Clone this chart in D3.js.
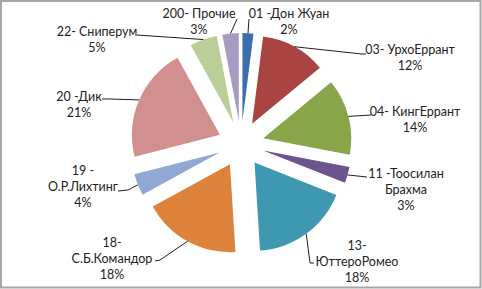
<!DOCTYPE html>
<html>
<head>
<meta charset="utf-8">
<script src="https://cdn.jsdelivr.net/npm/d3@7"></script>
<style>
  body { margin: 0; background: #fff; }
  text { font-family: Lato, "Open Sans", sans-serif; font-size: 12.5px; fill: #222; }
</style>
</head>
<body>
<div id="chart"></div>
<script>
// slices clockwise from 12 o'clock
const names = ['01 -Дон Жуан', '03- УрхоЕррант', '04- КингЕррант', '11 -Тоосилан Брахма', '13- ЮттероРомео',
  '18- С.Б.Командор', '19 - О.Р.Лихтинг', '20 -Дик', '22- Сниперум', '200- Прочие'];
const nameLines = [['01 -Дон Жуан'], ['03- УрхоЕррант'], ['04- КингЕррант'], ['11 -Тоосилан', 'Брахма'], ['13-', 'ЮттероРомео'],
  ['18-', 'С.Б.Командор'], ['19 -', 'О.Р.Лихтинг'], ['20 -Дик'], ['22- Сниперум'], ['200- Прочие']];
const values = [2, 12, 14, 3, 18, 18, 4, 21, 5, 3];
const colors = ['#3a6ead', '#a94442', '#88a649', '#6d548e', '#3f98b1', '#dc823b', '#91a8d4', '#d18f8e', '#b9cf97', '#a79bc2'];

// hand placed labels, like Excel: label centre, first line y, leader elbow/end points
const labelPos = [
  { x: 289, y: 14, line: [[249, 19]] },
  { x: 410, y: 50, line: [[362, 54], [366, 54]] },
  { x: 415, y: 112, line: [[371, 115]] },
  { x: 406, y: 174, line: [[367, 177]] },
  { x: 357, y: 246, line: [[310, 263], [314, 263]] },
  { x: 112, y: 243, line: [[160, 260], [155, 261]] },
  { x: 83, y: 171, line: [[128, 190], [118, 191]] },
  { x: 79, y: 97, line: [[110, 99], [102, 99]] },
  { x: 97, y: 32, line: [[137, 35]] },
  { x: 199, y: 14, line: [[237, 19]] }
];

const W = 482, H = 289;
const cx = 241, cy = 144, r = 88, explode = 23, lineH = 16;

const svg = d3.select('#chart').append('svg').attr('width', W).attr('height', H);

svg.append('rect').attr('x', 1).attr('y', 1).attr('width', W - 2.5).attr('height', H - 2.5)
  .attr('fill', '#fff').attr('stroke', '#a6a6a6').attr('stroke-width', 2);

const total = d3.sum(values);
const pie = d3.pie().sort(null).value(d => d)(values);
const arc = d3.arc().innerRadius(0).outerRadius(r);
const fmt = d3.format('.0%');

const g = svg.append('g').attr('transform', `translate(${cx},${cy})`);

const offset = d => {
  const a = (d.startAngle + d.endAngle) / 2;
  return [explode * Math.sin(a), -explode * Math.cos(a)];
};

g.selectAll('path.slice')
  .data(pie)
  .enter().append('path')
  .attr('class', 'slice')
  .attr('d', arc)
  .attr('fill', (d, i) => colors[i])
  .attr('transform', d => `translate(${offset(d)})`);

// leader lines from the outer edge of each slice
const line = d3.line();
svg.selectAll('path.leader')
  .data(pie)
  .enter().append('path')
  .attr('class', 'leader')
  .attr('fill', 'none')
  .attr('stroke', '#1e1e1e')
  .attr('stroke-width', 1)
  .attr('d', (d, i) => {
    const a = (d.startAngle + d.endAngle) / 2;
    const [ox, oy] = offset(d);
    const start = [cx + ox + r * Math.sin(a), cy + oy - r * Math.cos(a)];
    return line([start, ...labelPos[i].line]);
  });

// labels
pie.forEach((d, i) => {
  const p = labelPos[i];
  const lines = nameLines[i].concat([fmt(d.value / total)]);
  const t = svg.append('text').attr('text-anchor', 'middle');
  lines.forEach((s, k) => {
    t.append('tspan').attr('x', p.x).attr('y', p.y + k * lineH).attr('dy', '0.35em').text(s);
  });
});
</script>
</body>
</html>
